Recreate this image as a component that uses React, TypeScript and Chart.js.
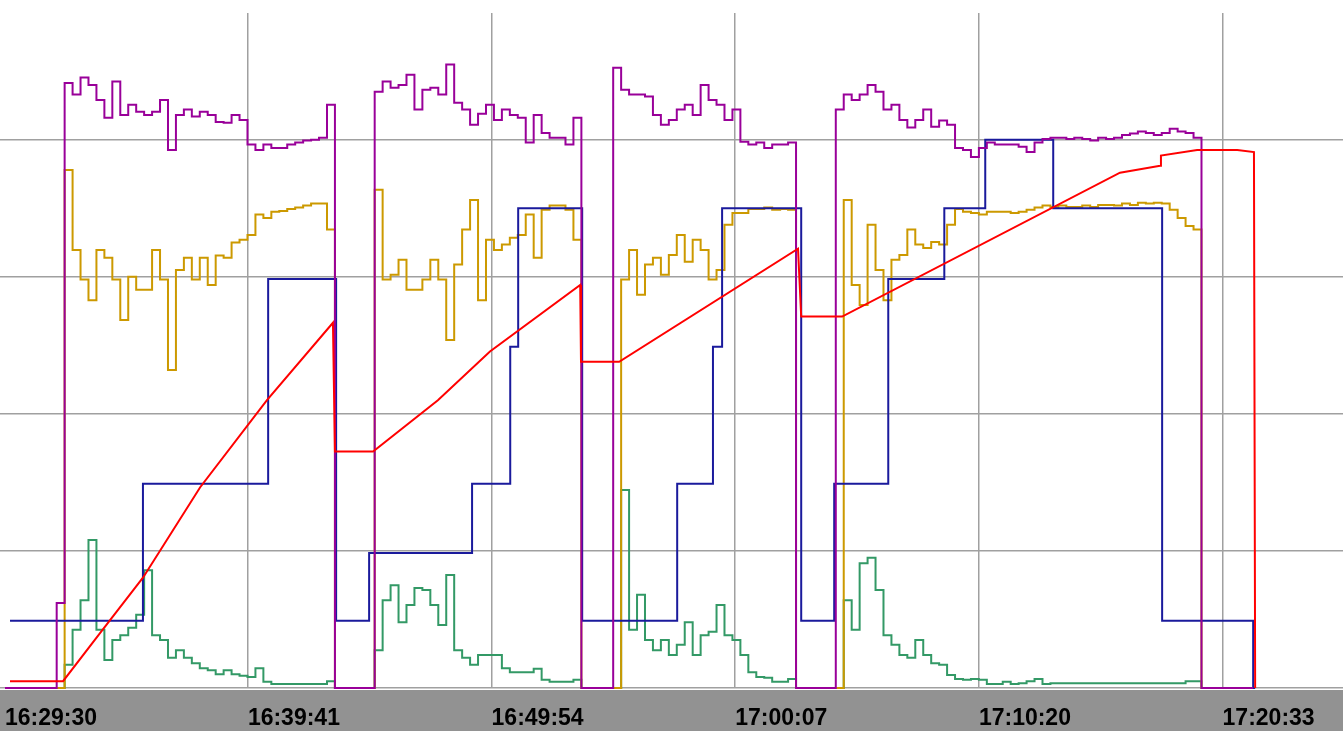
import React, { useEffect, useRef } from "react";
import { Chart, registerables } from "chart.js";

Chart.register(...registerables);

// Sample spacing of the logged signals (seconds since 16:29:30)
const SAMPLE_SECONDS = 20;

// X axis: seconds since 16:29:30 and their labels
const tickSeconds = [0, 611, 1224, 1837, 2450, 3063];
const tickLabels = ["16:29:30", "16:39:41", "16:49:54", "17:00:07", "17:10:20", "17:20:33"];
const gridValues = [0, 20, 40, 60, 80];

// Purple signal, one value per sample
const purpleValues = [
  0, 0, 0, 0, 0, 0, 0, 12.4,
  88.3, 86.6, 89.1, 88.0, 85.8, 83.2, 88.5, 83.6, 85.1, 84.1, 83.6, 84.1, 85.8, 78.5, 83.6, 84.4, 83.4, 84.1,
  83.6, 82.6, 82.5, 83.6, 82.9, 79.3, 78.5, 79.3, 78.8, 78.8, 79.3, 79.6, 79.9, 80.0, 80.3, 85.1,
  0, 0, 0, 0, 0,
  87.0, 88.5, 87.6, 88.0, 89.5, 84.4, 87.3, 87.6, 86.6, 91.0, 85.4, 84.4, 82.2, 83.8, 85.1, 82.9, 84.4, 83.6,
  83.2, 79.6, 83.6, 81.0, 80.3, 80.3, 79.3, 83.2,
  0, 0, 0, 0,
  90.5, 87.3, 86.6, 86.6, 86.3, 83.6, 82.2, 82.9, 84.4, 85.1, 83.6, 88.0, 85.8, 85.1, 82.9, 84.4, 79.7, 79.3,
  79.6, 78.8, 79.3, 79.3, 79.6,
  0, 0, 0, 0, 0,
  84.4, 86.6, 85.8, 86.6, 88.0, 87.0, 84.4, 85.1, 82.9, 81.8, 82.9, 84.4, 81.9, 82.8, 82.2, 78.8, 78.5, 77.5,
  78.8, 79.6, 79.3, 79.3, 79.3, 79.0, 78.2, 79.6, 80.1, 80.3, 80.3, 80.1, 80.3, 80.1, 79.9, 80.3, 80.1, 80.3,
  80.7, 80.9, 81.2, 81.0, 80.7, 81.0, 81.6, 81.2, 81.0, 80.3,
  0, 0, 0, 0, 0, 0, 0,
];

// Gold signal
const goldValues = [
  0, 0, 0, 0, 0, 0, 0, 0,
  75.6, 63.9, 59.6, 56.6, 63.9, 62.8, 59.6, 53.7, 60.0, 58.1, 58.1, 63.9, 59.6, 46.4, 61.0, 62.8, 59.6, 62.8,
  58.8, 63.1, 62.8, 65.0, 65.4, 66.1, 69.1, 68.6, 69.5, 69.6, 69.9, 70.1, 70.4, 70.7, 70.7, 66.9,
  0, 0, 0, 0, 0,
  72.7, 59.6, 60.3, 62.5, 58.1, 58.1, 59.6, 62.5, 59.6, 50.8, 61.8, 66.9, 71.2, 56.6, 65.4, 63.9, 64.7, 65.7,
  66.1, 69.1, 62.8, 69.8, 70.4, 70.4, 69.8, 65.4,
  0, 0, 0, 0, 0,
  59.6, 63.9, 57.4, 61.8, 62.8, 60.3, 63.2, 66.1, 62.2, 65.4, 63.9, 59.6, 61.0, 67.6, 69.3, 69.3, 69.9, 69.9,
  70.1, 69.8, 69.9, 69.8,
  0, 0, 0, 0, 0, 0,
  71.2, 58.8, 55.9, 67.6, 61.0, 56.6, 62.5, 63.2, 66.9, 64.7, 64.2, 65.1, 64.7, 67.6, 69.9, 69.5, 69.3, 69.1,
  69.5, 69.5, 69.5, 69.3, 69.5, 69.8, 70.1, 70.4, 70.2, 70.4, 70.2, 70.2, 70.4, 70.2, 70.5, 70.5, 70.4, 70.7,
  70.5, 70.8, 70.7, 70.8, 70.7, 69.8, 68.6, 67.4, 66.9,
  0, 0, 0, 0, 0, 0, 0,
];

// Green signal
const greenValues = [
  0, 0, 0, 0, 0, 0, 0, 0,
  3.4, 8.5, 12.8, 21.6, 8.5, 4.1, 7.0, 7.7, 8.8, 10.7, 17.2, 7.7, 7.0, 4.4, 5.5, 4.4, 3.6, 2.9, 2.6, 2.0,
  2.6, 2.0, 1.8, 1.6, 2.9, 0.9, 0.6, 0.6, 0.6, 0.6, 0.6, 0.6, 0.6, 1.0,
  0, 0, 0, 0, 0,
  5.5, 12.8, 15.0, 9.6, 12.1, 14.6, 14.3, 12.1, 9.2, 16.5, 5.5, 4.4, 3.4, 4.8, 4.8, 4.8, 2.9, 2.3, 2.3, 2.3,
  2.8, 1.2, 0.9, 0.9, 0.9, 1.2,
  0, 0, 0, 0, 0,
  28.9, 8.5, 13.6, 7.0, 5.5, 7.0, 4.8, 6.3, 9.6, 4.8, 7.7, 8.2, 12.1, 7.7, 7.0, 4.8, 2.3, 1.6, 1.5, 0.9,
  0.9, 1.3,
  0, 0, 0, 0, 0, 0,
  12.8, 8.5, 18.2, 19.0, 14.3, 7.7, 6.3, 4.8, 4.4, 7.0, 4.8, 3.6, 3.4, 1.9, 1.3, 1.2, 1.3, 1.2, 0.6, 0.6,
  0.9, 0.6, 0.7, 1.0, 1.3, 0.6,
  0.7, 0.7, 0.7, 0.7, 0.7, 0.7, 0.7, 0.7, 0.7, 0.7, 0.7, 0.7, 0.7, 0.7, 0.7, 0.7, 0.7, 1.0, 1.0,
  0, 0, 0, 0, 0, 0, 0,
];

// Blue set-point steps: value holds from each time until the next
const blueTimes = [12.6, 347, 662, 833, 916, 1175, 1271, 1291, 1452, 1691, 1781, 1804, 2003, 2086, 2222, 2363, 2466, 2637, 2911, 3140, 3145];
const blueValues = [9.8, 29.8, 59.7, 9.8, 19.7, 29.8, 49.8, 70.0, 9.8, 29.8, 49.8, 70.0, 9.8, 29.8, 59.7, 70.0, 80.0, 70.0, 9.8, 0, 0];

// Red ramp
const redTimes = [12.6, 146, 239, 347, 491, 659, 825, 830, 926, 1089, 1220, 1447, 1449, 1545, 1995, 2003, 2106, 2805, 2906, 2908, 2999, 3100, 3142, 3145];
const redValues = [1.0, 1.0, 8.0, 16.1, 29.3, 42.0, 53.3, 34.5, 34.5, 42.0, 49.1, 58.8, 47.6, 47.6, 64.1, 54.2, 54.2, 75.2, 76.2, 77.7, 78.5, 78.5, 78.2, 0];

const sampled = (vals: number[]) => vals.map((v, i) => ({ x: i * SAMPLE_SECONDS, y: v }));
const paired = (xs: number[], ys: number[]) => xs.map((x, i) => ({ x, y: ys[i] }));

const bandPlugin = {
  id: "bottomBand",
  beforeDraw(chart: any) {
    const { ctx, width, height } = chart;
    ctx.save();
    ctx.fillStyle = "#ffffff";
    ctx.fillRect(0, 0, width, height);
    ctx.fillStyle = "#929292";
    ctx.fillRect(0, 690, width, height - 690);
    ctx.restore();
  },
};

export default function App() {
  const ref = useRef<HTMLCanvasElement | null>(null);

  useEffect(() => {
    if (!ref.current) return;
    const chart = new Chart(ref.current, {
      type: "line",
      data: {
        datasets: [
          { label: "red", data: paired(redTimes, redValues), borderColor: "#ff0000", borderWidth: 2, order: 1, clip: 3 } as any,
          { label: "purple", data: sampled(purpleValues), borderColor: "#990099", borderWidth: 2, stepped: "middle", order: 2, clip: 3 } as any,
          { label: "blue", data: paired(blueTimes, blueValues), borderColor: "#1a1a9c", borderWidth: 2, stepped: "before", order: 3, clip: 3 } as any,
          { label: "gold", data: sampled(goldValues), borderColor: "#cc9900", borderWidth: 2, stepped: "middle", order: 4, clip: 3 } as any,
          { label: "green", data: sampled(greenValues), borderColor: "#339966", borderWidth: 2, stepped: "middle", order: 5, clip: 3 } as any,
        ],
      },
      options: {
        animation: false,
        responsive: false,
        layout: { padding: { top: 13, left: 0, right: 0, bottom: 0 } },
        elements: { point: { radius: 0 }, line: { tension: 0, fill: false } },
        plugins: { legend: { display: false }, tooltip: { enabled: false } },
        scales: {
          x: {
            type: "linear",
            min: -12.6,
            max: 3366,
            afterBuildTicks: (s: any) => {
              s.ticks = tickSeconds.map((v) => ({ value: v }));
            },
            afterFit: (s: any) => {
              s.height = 43;
              s.paddingLeft = 0;
              s.paddingRight = 0;
            },
            grid: {
              color: (c: any) => (c.tick && c.tick.value === 0 ? "rgba(0,0,0,0)" : "#a0a0a0"),
              lineWidth: 1.5,
              drawTicks: false,
            },
            border: { display: false },
            ticks: {
              align: "start",
              maxRotation: 0,
              autoSkip: false,
              padding: 17,
              color: "#000000",
              font: { family: "'Liberation Sans', Arial, sans-serif", size: 23, weight: "bold" },
              callback: (_v: any, i: number) => tickLabels[i],
            },
          },
          y: {
            min: 0,
            max: 98.5,
            afterBuildTicks: (s: any) => {
              s.ticks = gridValues.map((v) => ({ value: v }));
            },
            afterFit: (s: any) => {
              s.width = 0;
              s.paddingTop = 0;
              s.paddingBottom = 0;
            },
            grid: { color: "#a0a0a0", lineWidth: 1.5, drawTicks: false },
            border: { display: false },
            ticks: { display: false },
          },
        },
      } as any,
      plugins: [bandPlugin],
    });
    return () => chart.destroy();
  }, []);

  return (
    <div style={{ position: "absolute", left: 0, top: 0, width: 1343, height: 731 }}>
      <canvas ref={ref} width={1343} height={731} style={{ display: "block" }} />
    </div>
  );
}
